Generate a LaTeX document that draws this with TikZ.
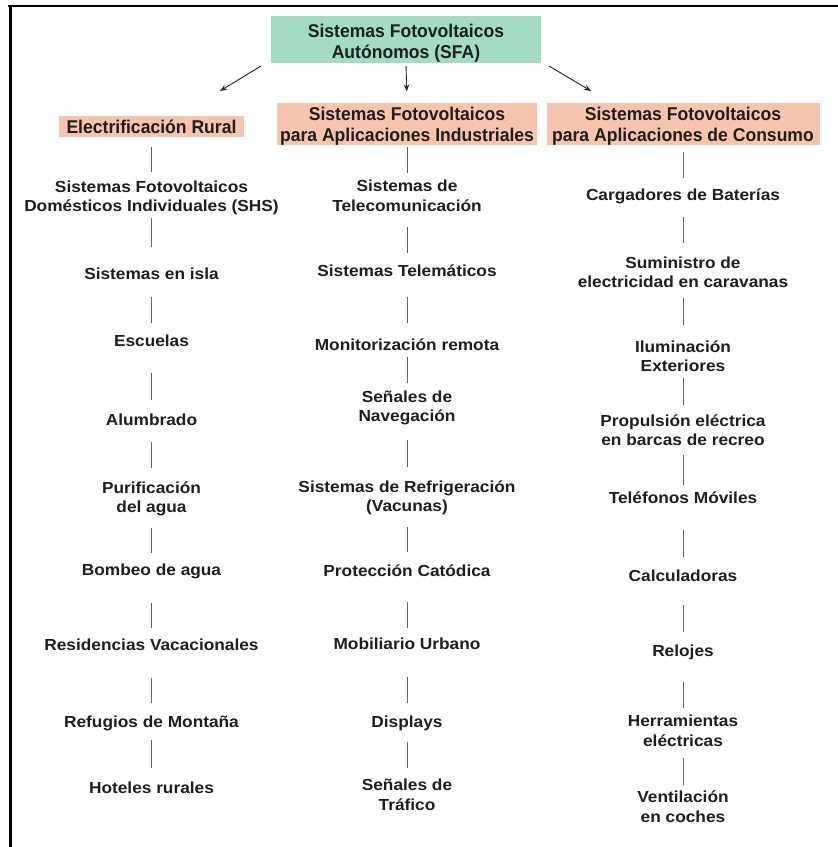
\documentclass[tikz,border=0pt]{standalone}
\usepackage{fontspec}
\setmainfont{Liberation Sans}
\newfontfamily\itemfamily{Liberation Sans}[FakeStretch=1.08]
\newfontfamily\headfamily{Liberation Sans}[FakeStretch=0.95]
\usetikzlibrary{arrows.meta}

\definecolor{rootgreen}{HTML}{A4DCC3}
\definecolor{catsalmon}{HTML}{F7C4AE}
\definecolor{inkgray}{HTML}{1E1E1E}
\definecolor{rulegray}{HTML}{666666}

\tikzset{
  item/.style={inner sep=0pt, align=center, text=inkgray,
    font=\itemfamily\bfseries\fontsize{16}{19.5}\selectfont},
  headtext/.style={inner sep=0pt, align=center, text=inkgray,
    font=\headfamily\bfseries\fontsize{18.5}{21}\selectfont},
  rootbox/.style={headtext, fill=rootgreen, minimum width=270pt, minimum height=47pt},
  catbox/.style={headtext, fill=catsalmon},
  linkline/.style={draw=rulegray, line width=1pt},
  branch/.style={draw=black!85, line width=0.9pt, -{Stealth[length=7pt,width=5.5pt]}},
  framerule/.style={draw=black, line width=2.8pt}
}

% vertical connector between two stacked entries, trimmed at both ends
\newcommand\joinitems[4]{\draw[linkline, shorten <=#3pt, shorten >=#4pt] (#1) -- (#2);}

\begin{document}
\begin{tikzpicture}[x=1pt, y=-1pt]
\useasboundingbox (0,0) rectangle (838,847);
\fill[white] (0,0) rectangle (838,847);

% page frame (top and left rules)
\draw[framerule] (8,6) -- (838,6);
\draw[framerule] (10.5,4.6) -- (10.5,847);

% root
\node[rootbox] (root) at (406,39.5) {\rule{0pt}{21.5pt}Sistemas Fotovoltaicos\\Autónomos (SFA)};

% categories
\node[catbox, minimum width=185pt, minimum height=21pt] (elec) at (151.5,126.5) {Electrificación Rural};
\node[catbox, minimum width=260pt, minimum height=42pt] (indus) at (407,124) {\rule{0pt}{18pt}Sistemas Fotovoltaicos\\para Aplicaciones Industriales};
\node[catbox, minimum width=273pt, minimum height=42pt] (cons) at (683,124) {\rule{0pt}{18pt}Sistemas Fotovoltaicos\\para Aplicaciones de Consumo};

% branching arrows
\coordinate (tailL) at (261,66);
\coordinate (headL) at (220,91);
\coordinate (tailR) at (549,66);
\coordinate (headR) at (591,91);
\draw[branch] (tailL) -- (headL);
\draw[branch, shorten <=3pt, shorten >=11pt] (root.south) -- (indus.north);
\draw[branch] (tailR) -- (headR);

% rural electrification
\node[item] (L1) at (151.5,198) {\strut Sistemas Fotovoltaicos\\\strut Domésticos Individuales (SHS)};
\node[item] (L2) at (151.5,276) {\strut Sistemas en isla};
\node[item] (L3) at (151.5,343) {\strut Escuelas};
\node[item] (L4) at (151.5,422) {\strut Alumbrado};
\node[item] (L5) at (151.5,499) {\strut Purificación\\\strut del agua};
\node[item] (L6) at (151.5,572) {\strut Bombeo de agua};
\node[item] (L7) at (151.5,647) {\strut Residencias Vacacionales};
\node[item] (L8) at (151.5,724) {\strut Refugios de Montaña};
\node[item] (L9) at (151.5,790) {\strut Hoteles rurales};

\joinitems{elec}{L1}{10}{6.5}
\joinitems{L1}{L2}{0}{19}
\joinitems{L2}{L3}{11.25}{10.25}
\joinitems{L3}{L4}{20.25}{12.25}
\joinitems{L4}{L5}{10.25}{11.5}
\joinitems{L5}{L6}{9.5}{9.25}
\joinitems{L6}{L7}{21.25}{9.25}
\joinitems{L7}{L8}{21.25}{11.25}
\joinitems{L8}{L9}{6.25}{12.25}

% industrial applications
\node[item] (M1) at (407,197.5) {\strut Sistemas de\\\strut Telecomunicación};
\node[item] (M2) at (407,273) {\strut Sistemas Telemáticos};
\node[item] (M3) at (407,347) {\strut Monitorización remota};
\node[item] (M4) at (407,408) {\strut Señales de\\\strut Navegación};
\node[item] (M5) at (407,498) {\strut Sistemas de Refrigeración\\\strut (Vacunas)};
\node[item] (M6) at (407,573) {\strut Protección Catódica};
\node[item] (M7) at (407,646) {\strut Mobiliario Urbano};
\node[item] (M8) at (407,724) {\strut Displays};
\node[item] (M9) at (407,796.5) {\strut Señales de\\\strut Tráfico};

\joinitems{indus}{M1}{1.5}{5}
\joinitems{M1}{M2}{10}{10.25}
\joinitems{M2}{M3}{14.25}{14.25}
\joinitems{M3}{M4}{0.25}{5.5}
\joinitems{M4}{M5}{12.5}{11.5}
\joinitems{M5}{M6}{9.5}{11.25}
\joinitems{M6}{M7}{19.25}{8.25}
\joinitems{M7}{M8}{21.25}{11.25}
\joinitems{M8}{M9}{8.25}{9}

% consumer applications
\node[item] (R1) at (683,197) {\strut Cargadores de Baterías};
\node[item] (R2) at (683,274) {\strut Suministro de\\\strut electricidad en caravanas};
\node[item] (R3) at (683,358) {\strut Iluminación\\\strut Exteriores};
\node[item] (R4) at (683,432) {\strut Propulsión eléctrica\\\strut en barcas de recreo};
\node[item] (R5) at (683,500) {\strut Teléfonos Móviles};
\node[item] (R6) at (683,578) {\strut Calculadoras};
\node[item] (R7) at (683,653) {\strut Relojes};
\node[item] (R8) at (683,732.5) {\strut Herramientas\\\strut eléctricas};
\node[item] (R9) at (683,808.5) {\strut Ventilación\\\strut en coches};

\joinitems{cons}{R1}{6.5}{9.25}
\joinitems{R1}{R2}{10.25}{11.5}
\joinitems{R2}{R3}{4.5}{13.5}
\joinitems{R3}{R4}{0}{7.5}
\joinitems{R4}{R5}{3.5}{5.25}
\joinitems{R5}{R6}{20.25}{11.25}
\joinitems{R6}{R7}{17.25}{11.25}
\joinitems{R7}{R8}{19.25}{5}
\joinitems{R8}{R9}{6}{4}
\end{tikzpicture}
\end{document}
